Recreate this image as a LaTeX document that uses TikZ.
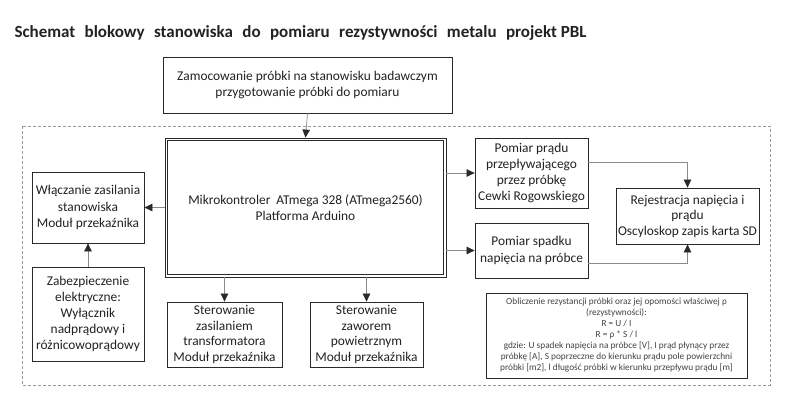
\documentclass[tikz,border=0pt]{standalone}
\usepackage{fontspec}
\setmainfont{Carlito}
\usetikzlibrary{arrows.meta,calc}
\definecolor{txt}{HTML}{222222}
\definecolor{edge}{HTML}{2A2A2A}
\definecolor{conn}{HTML}{8A8A8A}
\definecolor{dash}{HTML}{9A9A9A}
\tikzset{
  blk/.style={draw=edge, line width=0.8pt, align=center, text=txt, inner sep=1pt,
    font=\fontsize{13.4}{16.2}\selectfont},
  conn/.style={draw=conn, line width=0.7pt, -{Triangle[length=8pt,width=7.5pt,fill=edge,color=edge]}},
  frame/.style={draw=dash, dashed, dash pattern=on 3pt off 2pt, line width=0.6pt}
}
\begin{document}
\begin{tikzpicture}[x=1pt,y=-1pt]
\useasboundingbox (0,0) rectangle (800,418);
\fill[white] (0,0) rectangle (800,418);
% title
\node[anchor=west, text=txt, font=\fontsize{17}{20}\selectfont\bfseries] (title) at (11,33)
  {Schemat\hspace{5.5pt} blokowy\hspace{5.5pt} stanowiska\hspace{5.5pt} do\hspace{5.5pt} pomiaru\hspace{5.5pt} rezystywności\hspace{5.5pt} metalu\hspace{5.5pt} projekt PBL};
% dashed frame
\draw[frame] (22,126) rectangle (770,385);
% nodes
\node[blk, minimum width=289, minimum height=56] (top) at (307.5,85)
  {Zamocowanie próbki na stanowisku badawczym\\przygotowanie próbki do pomiaru};
\node[blk, minimum width=281, minimum height=139] (main) at (305.5,207.5)
  {Mikrokontroler\ \ ATmega 328 (ATmega2560)\\Platforma Arduino};
\draw[edge, line width=0.8pt] ([shift={(3.2,3.2)}]main.north west) rectangle ([shift={(-3.2,-3.2)}]main.south east);
\node[blk, minimum width=112, minimum height=71] (left1) at (88,207.5)
  {Włączanie zasilania\\stanowiska\\Moduł przekaźnika};
\node[blk, minimum width=112, minimum height=94, font=\fontsize{13.4}{15.8}\selectfont] (left2) at (88,314)
  {Zabezpieczenie\\elektryczne:\\Wyłącznik\\nadprądowy i\\różnicowoprądowy};
\node[blk, minimum width=115, minimum height=65, font=\fontsize{13.4}{15.5}\selectfont] (st1) at (224.5,334.5)
  {Sterowanie\\zasilaniem\\transformatora\\Moduł przekaźnika};
\node[blk, minimum width=113, minimum height=65, font=\fontsize{13.4}{15.5}\selectfont] (st2) at (366.5,334.5)
  {Sterowanie\\zaworem\\powietrznym\\Moduł przekaźnika};
\node[blk, minimum width=113, minimum height=70] (pp) at (531.5,173)
  {Pomiar prądu\\przepływającego\\przez próbkę\\Cewki Rogowskiego};
\node[blk, minimum width=113, minimum height=55] (ps) at (531.5,250.5)
  {Pomiar spadku\\napięcia na próbce};
\node[blk, minimum width=143, minimum height=56, font=\fontsize{13.4}{15.5}\selectfont] (rej) at (687.5,216)
  {Rejestracja napięcia i\\prądu\\Oscyloskop zapis karta SD};
\node[blk, line width=0.6pt, minimum width=261, minimum height=85, font=\fontsize{9.3}{11}\selectfont, text=txt!85] (form) at (616.5,335.5)
  {Obliczenie rezystancji próbki oraz jej opomości właściwej ρ\\(rezystywności):\\R = U / I\\R = ρ * S / l\\gdzie: U spadek napięcia na próbce [V], I prąd płynący przez\\próbkę [A], S poprzeczne do kierunku prądu pole powierzchni\\próbki [m2], l długość próbki w kierunku przepływu prądu [m]};
% connectors
\draw[conn] (top.south) -- (main.north);
\draw[conn] (main.west |- left1) -- (left1.east);
\draw[conn] (left2.north) -- (left1.south);
\draw[conn] (st1.north |- main.south) -- (st1.north);
\draw[conn] (st2.north |- main.south) -- (st2.north);
\draw[conn] (main.east |- pp) -- (pp.west);
\draw[conn] (main.east |- ps) -- (ps.west);
\draw[conn] ([yshift=11pt]pp.east) -| (rej.north);
\draw[conn] ([yshift=-12.5pt]ps.east) -| (rej.south);
\end{tikzpicture}
\end{document}
